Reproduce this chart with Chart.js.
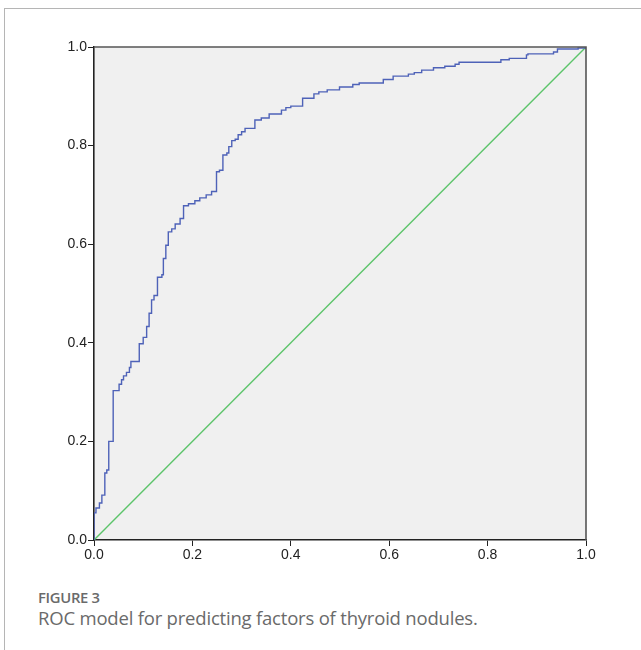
<!DOCTYPE html>
<html>
<head>
<meta charset="utf-8">
<script src="https://cdn.jsdelivr.net/npm/chart.js@4"></script>
<style>
  html, body { margin: 0; padding: 0; background: #fff; }
  body { width: 641px; height: 650px; position: relative; overflow: hidden; }
  #frame { position: absolute; left: 4px; top: 8px; right: -2px; bottom: -2px;
           border-top: 1px solid #b5b5b5; border-left: 1px solid #b5b5b5; }
  #wrap { position: absolute; left: 0; top: 0; width: 641px; height: 575px; }
  #fig { position: absolute; left: 38px; top: 587px; font-family: "Open Sans", "Noto Sans", sans-serif;
         font-size: 14.8px; font-weight: 600; color: #6a6a6a; letter-spacing: -0.3px; }
  #cap { position: absolute; left: 38px; top: 605px; font-family: "Open Sans", "Noto Sans", sans-serif;
         font-size: 18.5px; color: #6a6a6a; letter-spacing: -0.2px; }
</style>
</head>
<body>
<div id="frame"></div>
<div id="wrap"><canvas id="rocChart"></canvas></div>
<div id="fig">FIGURE 3</div>
<div id="cap">ROC model for predicting factors of thyroid nodules.</div>
<script>
// ROC curve corners (1 - specificity, sensitivity)
const fpr = [0, 0, 0.004, 0.011, 0.016, 0.022, 0.026, 0.030, 0.039, 0.051, 0.056, 0.060, 0.066, 0.072,
  0.075, 0.092, 0.100, 0.107, 0.112, 0.117, 0.122, 0.129, 0.138, 0.141, 0.146, 0.151, 0.158, 0.165,
  0.175, 0.182, 0.192, 0.205, 0.215, 0.228, 0.239, 0.249, 0.255, 0.262, 0.270, 0.274, 0.280, 0.287,
  0.293, 0.300, 0.307, 0.327, 0.340, 0.356, 0.381, 0.390, 0.400, 0.424, 0.447, 0.457, 0.474, 0.499,
  0.526, 0.539, 0.588, 0.608, 0.639, 0.651, 0.666, 0.690, 0.713, 0.734, 0.742, 0.827, 0.844, 0.879,
  0.882, 0.934, 0.942, 0.984, 1.0];
const tpr = [0, 0.055, 0.065, 0.075, 0.091, 0.136, 0.142, 0.200, 0.303, 0.316, 0.325, 0.333, 0.340, 0.350,
  0.362, 0.398, 0.411, 0.433, 0.460, 0.487, 0.496, 0.533, 0.538, 0.571, 0.598, 0.625, 0.631, 0.641,
  0.652, 0.678, 0.682, 0.688, 0.694, 0.700, 0.707, 0.747, 0.750, 0.781, 0.785, 0.798, 0.810, 0.813,
  0.822, 0.828, 0.835, 0.852, 0.856, 0.864, 0.872, 0.877, 0.880, 0.896, 0.905, 0.909, 0.913, 0.919,
  0.924, 0.927, 0.934, 0.941, 0.945, 0.948, 0.953, 0.958, 0.961, 0.965, 0.969, 0.974, 0.977, 0.984,
  0.986, 0.990, 0.996, 0.998, 1.0];
// reference diagonal
const refX = [0, 1];
const refY = [0, 1];
const tickValues = [0, 0.2, 0.4, 0.6, 0.8, 1.0];

const plotBox = {
  id: 'plotBox',
  beforeDraw(chart) {
    const a = chart.chartArea, ctx = chart.ctx;
    ctx.save();
    ctx.fillStyle = '#f0f0f0';
    ctx.fillRect(a.left, a.top, a.right - a.left, a.bottom - a.top);
    ctx.restore();
  },
  afterDraw(chart) {
    const a = chart.chartArea, ctx = chart.ctx;
    ctx.save();
    ctx.strokeStyle = '#555';
    ctx.lineWidth = 1.6;
    ctx.beginPath();
    ctx.moveTo(a.left, a.top);
    ctx.lineTo(a.right, a.top);
    ctx.lineTo(a.right, a.bottom);
    ctx.stroke();
    ctx.restore();
  }
};

const ctx = document.getElementById('rocChart').getContext('2d');
const rocChart = new Chart(ctx, {
  type: 'line',
  data: {
    datasets: [{
      label: 'ROC',
      data: fpr.map((x, i) => ({ x: x, y: tpr[i] })),
      borderColor: '#4e62b8',
      borderWidth: 1.4,
      pointRadius: 0,
      stepped: 'before',
      fill: false
    }, {
      label: 'Reference',
      data: refX.map((x, i) => ({ x: x, y: refY[i] })),
      borderColor: '#5cc46a',
      borderWidth: 1.4,
      pointRadius: 0,
      fill: false
    }]
  },
  options: {
    responsive: true,
    maintainAspectRatio: false,
    animation: false,
    layout: { padding: { left: 54, top: 47, right: 55, bottom: 0 } },
    plugins: { legend: { display: false }, tooltip: { enabled: false } },
    scales: {
      x: {
        type: 'linear', min: 0, max: 1,
        afterBuildTicks: (s) => { s.ticks = tickValues.map(v => ({ value: v })); },
        afterFit: (s) => { s.height = 35; },
        grid: { drawOnChartArea: false, drawTicks: true, tickLength: 6, color: '#222', lineWidth: 1 },
        border: { color: '#222', width: 1.6 },
        ticks: { padding: 1, color: '#222', font: { family: 'Liberation Sans', size: 14 },
                 callback: v => v.toFixed(1), maxRotation: 0 }
      },
      y: {
        type: 'linear', min: 0, max: 1,
        afterBuildTicks: (s) => { s.ticks = tickValues.map(v => ({ value: v })); },
        afterFit: (s) => { s.width = 40; },
        grid: { drawOnChartArea: false, drawTicks: true, tickLength: 6, color: '#222', lineWidth: 1 },
        border: { color: '#222', width: 1.6 },
        ticks: { padding: 1, color: '#222', font: { family: 'Liberation Sans', size: 14 },
                 callback: v => v.toFixed(1) }
      }
    }
  },
  plugins: [plotBox]
});
</script>
</body>
</html>
